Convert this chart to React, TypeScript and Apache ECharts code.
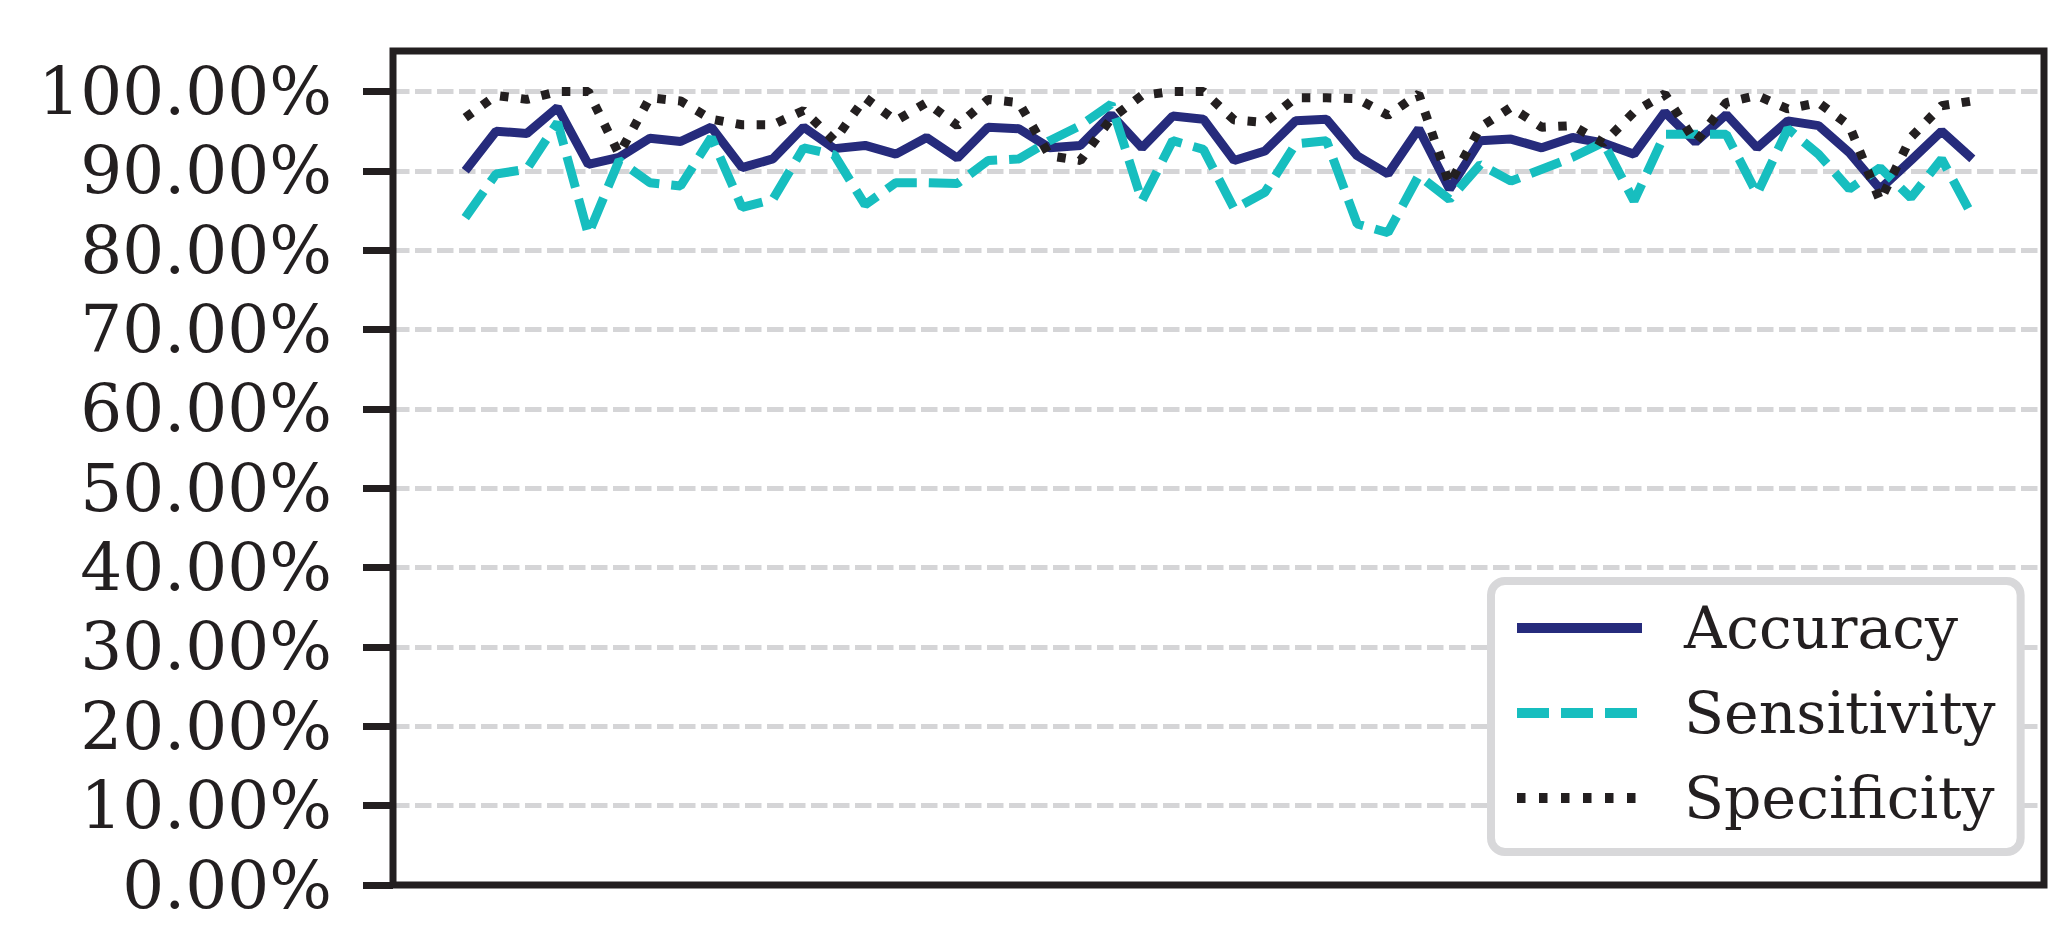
import React, { useEffect, useRef } from "react";
import * as echarts from "echarts";

const seriesNames = ["Accuracy", "Sensitivity", "Specificity"];

const accuracy = [
  90.0, 95.0, 94.7, 98.0, 90.8, 91.7, 94.1, 93.7, 95.5, 90.4,
  91.5, 95.5, 92.8, 93.2, 92.1, 94.2, 91.6, 95.5, 95.3, 92.9,
  93.2, 97.1, 92.9, 96.9, 96.5, 91.3, 92.5, 96.3, 96.5, 91.9,
  89.6, 95.3, 87.7, 93.8, 94.0, 92.9, 94.2, 93.5, 92.1, 97.4,
  93.6, 97.1, 92.9, 96.3, 95.7, 92.3, 87.7, 91.3, 95.0, 91.5,
];

const sensitivity = [
  84.1, 89.6, 90.2, 96.1, 82.0, 91.3, 88.5, 88.1, 94.2, 85.4,
  86.4, 92.9, 92.0, 85.7, 88.5, 88.5, 88.4, 91.3, 91.5, 93.8,
  95.7, 98.4, 86.2, 93.8, 92.7, 85.2, 87.3, 93.4, 93.8, 83.3,
  82.2, 89.4, 86.4, 90.8, 88.7, 90.2, 91.7, 93.6, 86.2, 94.6,
  94.6, 94.6, 87.1, 95.3, 92.1, 87.7, 90.4, 86.6, 91.5, 84.3,
];

const specificity = [
  96.7, 99.5, 99.0, 100.0, 100.0, 92.1, 99.2, 98.8, 96.5, 95.8,
  95.8, 97.6, 93.8, 99.2, 96.3, 98.6, 95.7, 99.0, 98.6, 91.9,
  91.3, 96.6, 99.5, 100.0, 100.0, 96.4, 96.1, 99.2, 99.2, 99.1,
  97.0, 99.7, 88.3, 95.5, 98.0, 95.5, 95.7, 93.5, 97.4, 99.7,
  93.6, 98.6, 99.5, 97.8, 98.6, 95.7, 86.2, 94.2, 98.2, 98.8,
];

const yTicks = [0, 10, 20, 30, 40, 50, 60, 70, 80, 90, 100];

const FONT = "DejaVu Serif";
const INK = "#231F20";
const NAVY = "#262B7C";
const CYAN = "#17BEBF";
const LW = 9;
const DASH = [32, 12];
const DOT = [8.5, 12.5];

export default function App() {
  const ref = useRef<HTMLDivElement>(null);

  useEffect(() => {
    if (!ref.current) return;
    const chart = echarts.init(ref.current, null, { renderer: "svg" });
    const toPairs = (arr: number[]) => arr.map((v, i) => [i, v]);
    const G = { left: 393, top: 51, right: 26, bottom: 54 };
    chart.setOption({
      animation: false,
      backgroundColor: "#ffffff",
      grid: { ...G, show: false },
      graphic: [
        {
          type: "rect",
          z: 50,
          silent: true,
          shape: {
            x: G.left,
            y: G.top,
            width: 2070 - G.left - G.right,
            height: 939 - G.top - G.bottom,
          },
          style: { fill: "none", stroke: INK, lineWidth: 7 },
        },
      ],
      xAxis: {
        type: "value",
        min: -2.35,
        max: 51.33,
        show: false,
        splitLine: { show: false },
      },
      yAxis: {
        type: "value",
        min: 0,
        max: 105.1,
        interval: 10,
        axisLine: { show: false, onZero: false },
        axisTick: {
          show: true,
          length: 30,
          customValues: yTicks,
          lineStyle: { color: INK, width: 7 },
        },
        axisLabel: {
          customValues: yTicks,
          margin: 61,
          fontFamily: FONT,
          fontSize: 66,
          color: INK,
          formatter: (v: number) => v.toFixed(2) + "%",
        },
        splitLine: {
          show: true,
          lineStyle: { color: "#D5D5D7", width: 5, type: [16.5, 5.5] },
        },
      },
      legend: {
        show: true,
        orient: "vertical",
        left: 1491,
        top: 581,
        padding: [15, 25, 22, 21],
        itemWidth: 125,
        itemHeight: 14,
        itemGap: 21,
        backgroundColor: "#ffffff",
        borderColor: "#D8D8DA",
        borderWidth: 8,
        borderRadius: 14,
        itemStyle: { opacity: 0 },
        textStyle: {
          fontFamily: FONT,
          fontSize: 58.5,
          color: INK,
          lineHeight: 64,
          padding: [0, 0, 0, 37],
        },
        data: [
          {
            name: seriesNames[0],
            itemStyle: { opacity: 0 },
            lineStyle: { color: NAVY, width: 10, type: "solid" },
          },
          {
            name: seriesNames[1],
            itemStyle: { opacity: 0 },
            lineStyle: { color: CYAN, width: 10, type: DASH },
          },
          {
            name: seriesNames[2],
            itemStyle: { opacity: 0 },
            lineStyle: { color: INK, width: 10, type: [8.5, 13.5] },
          },
        ],
      },
      series: [
        {
          name: seriesNames[0],
          type: "line",
          data: toPairs(accuracy),
          symbol: "none",
          color: NAVY,
          lineStyle: { color: NAVY, width: LW },
        },
        {
          name: seriesNames[1],
          type: "line",
          data: toPairs(sensitivity),
          symbol: "none",
          color: CYAN,
          lineStyle: { color: CYAN, width: LW, type: DASH },
        },
        {
          name: seriesNames[2],
          type: "line",
          data: toPairs(specificity),
          symbol: "none",
          color: INK,
          lineStyle: { color: INK, width: LW, type: DOT },
        },
      ],
    });
    return () => chart.dispose();
  }, []);

  return (
    <div
      ref={ref}
      style={{ position: "fixed", left: 0, top: 0, width: 2070, height: 939 }}
    />
  );
}
